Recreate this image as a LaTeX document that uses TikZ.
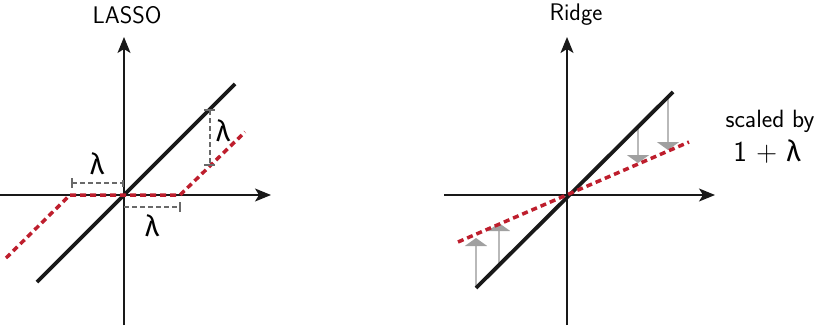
\documentclass[tikz,border=0pt]{standalone}
\usepackage{fontspec}
\newfontfamily\lamfont{Fira Sans}
\usetikzlibrary{arrows.meta}
\definecolor{dred}{RGB}{190,30,45}
\definecolor{dimgray}{RGB}{105,105,105}
\definecolor{shaftgray}{RGB}{185,185,185}
\definecolor{headgray}{RGB}{160,160,160}
\tikzset{
 axis/.style={line width=1.5pt, black!90, -{Stealth[length=16pt,width=13pt,inset=4pt]}},
 ident/.style={line width=3.8pt, black!90},
 shrink/.style={line width=3.5pt, dred, dash pattern=on 6pt off 4pt},
 dimline/.style={line width=1.5pt, dimgray, dash pattern=on 5pt off 3pt},
 dimtick/.style={line width=1.5pt, dimgray},
 gap/.style={line width=2pt, shaftgray, -{Triangle[width=22pt,length=8pt,color=headgray]}},
 title/.style={font=\sffamily\fontsize{24}{28}\selectfont, inner sep=0pt},
 lam/.style={font=\lamfont\fontsize{29}{33}\selectfont, inner sep=0pt},
}
\begin{document}
\begin{tikzpicture}[x=1pt,y=-1pt]
\useasboundingbox (0,0) rectangle (830,329);
% ---------- LASSO ----------
\coordinate (LxW) at (0,195);
\coordinate (LxE) at (271,195);
\coordinate (LyS) at (124,325);
\coordinate (LyN) at (124,37);
\draw[axis] (LxW) -- (LxE);
\draw[axis] (LyS) -- (LyN);
\coordinate (Lb1) at (37,282);
\coordinate (Lb2) at (235,84);
\draw[ident] (Lb1) -- (Lb2);
\coordinate (Lr1) at (6,258);
\coordinate (Lr2) at (70,195);
\coordinate (Lr3) at (180,195);
\coordinate (Lr4) at (245,132);
\draw[shrink] (Lr1) -- (Lr2) -- (Lr3) -- (Lr4);
% dimension: upper left
\coordinate (Da1) at (72,183);
\coordinate (Da2) at (123,183);
\draw[dimline] (Da1) -- (Da2);
\draw[dimtick] ([yshift=-5pt]Da1) -- ([yshift=5pt]Da1);
\draw[dimtick] ([yshift=-4pt]Da2) -- ([yshift=3pt]Da2);
\node[lam] (la) at (97,164) {λ};
% dimension: lower right
\coordinate (Db1) at (124,207);
\coordinate (Db2) at (180,207);
\draw[dimline] (Db1) -- (Db2);
\draw[dimtick] ([yshift=-5pt]Db2) -- ([yshift=5pt]Db2);
\node[lam] (lb) at (152,226) {λ};
% dimension: vertical
\coordinate (Dc1) at (210,110);
\coordinate (Dc2) at (210,165);
\draw[dimline] (Dc1) -- (Dc2);
\draw[dimtick] ([xshift=-6pt]Dc1) -- ([xshift=5pt]Dc1);
\draw[dimtick] ([xshift=-6pt]Dc2) -- ([xshift=5pt]Dc2);
\node[lam] (lc) at (223,131) {λ};
\node[title] (tl) at (127,15) {LASSO};
% ---------- Ridge ----------
\coordinate (RxW) at (444,195);
\coordinate (RxE) at (715,195);
\coordinate (RyS) at (567,325);
\coordinate (RyN) at (567,37);
\draw[axis] (RxW) -- (RxE);
\draw[axis] (RyS) -- (RyN);
\coordinate (Rg1) at (476,288);
\coordinate (Rg2) at (638,126);
\coordinate (Rg3) at (668,96);
\coordinate (Rg4) at (499,265);
\coordinate (Rh1) at (476,238);
\coordinate (Rh2) at (638,163);
\coordinate (Rh3) at (668,150);
\coordinate (Rh4) at (499,223);
\draw[gap] (Rg1) -- (Rh1);
\draw[gap] (Rg4) -- (Rh4);
\draw[gap] (Rg2) -- (Rh2);
\draw[gap] (Rg3) -- (Rh3);
\coordinate (Rb1) at (476,288);
\coordinate (Rb2) at (673,92);
\draw[ident] (Rb1) -- (Rb2);
\coordinate (Rr1) at (458,242);
\coordinate (Rr2) at (689,142);
\draw[shrink] (Rr1) -- (Rr2);
\node[title] (tr) at (576,15) {Ridge};
\node[inner sep=0pt, font=\sffamily\fontsize{25}{29}\selectfont] (sc) at (770,121) {scaled by};
\node[inner sep=0pt] (op) at (767,152) {\sffamily\fontsize{29}{33}\selectfont 1 + {\lamfont λ}};
\end{tikzpicture}
\end{document}
